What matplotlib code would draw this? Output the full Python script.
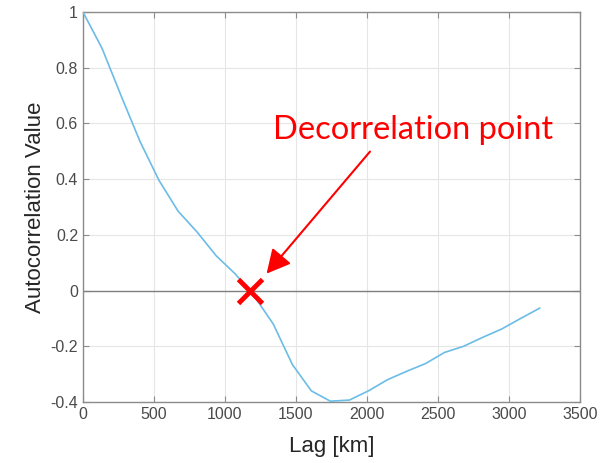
import matplotlib
matplotlib.use("Agg")
import matplotlib.pyplot as plt

lag_km = [0, 134, 268, 402, 536, 670, 804, 938, 1072, 1206, 1340, 1474, 1608,
          1742, 1876, 2010, 2144, 2278, 2412, 2546, 2680, 2814, 2948, 3082, 3216]
autocorr = [1.0, 0.87, 0.70, 0.535, 0.395, 0.285, 0.21, 0.125, 0.06, -0.02, -0.12,
            -0.265, -0.36, -0.397, -0.393, -0.36, -0.32, -0.29, -0.262, -0.222,
            -0.2, -0.168, -0.138, -0.10, -0.063]
decor_point = (1176, 0.0)
xticks = [0, 500, 1000, 1500, 2000, 2500, 3000, 3500]
yticks = [-0.4, -0.2, 0, 0.2, 0.4, 0.6, 0.8, 1]
ytick_labels = ["-0.4", "-0.2", "0", "0.2", "0.4", "0.6", "0.8", "1"]

plt.rcParams['font.family'] = ['Liberation Sans', 'DejaVu Sans']
fig = plt.figure(figsize=(6.03, 4.63), dpi=100)
ax = fig.add_axes([0.1376, 0.1317, 0.9619 - 0.1376, 0.974 - 0.1317])

ax.plot(lag_km, autocorr, color='#6bbce6', lw=1.2, zorder=3)
ax.axhline(0, color='#7f7f7f', lw=1.0, zorder=2)
ax.plot([decor_point[0]], [decor_point[1]], marker='x', color='#ff0000',
        markersize=17, mew=3.5, zorder=5)

ax.annotate('', xy=(1293, 0.061), xytext=(2021, 0.499),
            arrowprops=dict(arrowstyle='-|>,head_length=1.45,head_width=0.75',
                            color='#ff0000', lw=1.5, shrinkA=0, shrinkB=0))
ax.text(2324, 0.546, 'Decorrelation point', color='#ff0000', fontsize=23.5,
        family=['Lato', 'DejaVu Sans'], ha='center', va='baseline')

ax.set_xlim(0, 3500)
ax.set_ylim(-0.4, 1)
ax.set_xticks(xticks)
ax.set_yticks(yticks)
ax.set_yticklabels(ytick_labels)
ax.grid(True, color='#e6e6e6', lw=0.8, zorder=0)
ax.set_axisbelow(True)
for s in ax.spines.values():
    s.set_color('#8c8c8c')
    s.set_linewidth(1.0)
ax.tick_params(direction='in', top=True, right=True, length=4, width=0.8,
               color='#8c8c8c', labelcolor='#4a4a4a', labelsize=11.5)
ax.set_xlabel('Lag [km]', fontsize=16, color='#262626', labelpad=10)
ax.set_ylabel('Autocorrelation Value', fontsize=16, color='#262626', labelpad=3)

fig.savefig('out.png', dpi=100)
